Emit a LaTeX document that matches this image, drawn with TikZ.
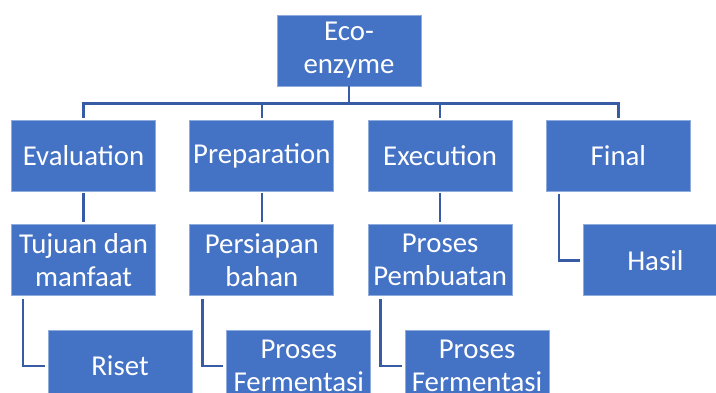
\documentclass[tikz,border=0pt]{standalone}
\usepackage{fontspec}
\setmainfont{Carlito}
\usetikzlibrary{positioning}
\definecolor{boxblue}{RGB}{68,114,196}
\definecolor{boxedge}{RGB}{143,170,220}
\definecolor{linkblue}{RGB}{55,92,165}

\begin{document}
\begin{tikzpicture}[x=1pt, y=1pt, node distance=33.5pt,
	main/.style = {draw=boxedge, line width=0.8pt, fill=boxblue, text=white,
		minimum width=144pt, minimum height=71pt, inner sep=1pt, align=center,
		font=\fontsize{28.8}{33}\selectfont},
	edge/.style = {draw=linkblue, line width=2.6pt}]

	\useasboundingbox (0,0) rectangle (716,392);
	\clip (0,0) rectangle (716,392);

	\node[main] (eco) at (349,341.5) {Eco-\\enzyme};

	\node[main] (eval) at (83.5,236.5) {Evaluation};
	\node[main] (prep) [right=of eval] {Preparation};
	\node[main] (exec) [right=of prep] {Execution};
	\node[main] (final) [right=of exec] {Final};

	\node[main] (tujuan) [below=33pt of eval] {Tujuan dan\\manfaat};
	\node[main] (persiapan) [below=33pt of prep] {Persiapan\\bahan};
	\node[main] (pembuatan) [below=33pt of exec] {Proses\\Pembuatan};
	\node[main] (hasil) [below=33pt of final, xshift=37pt] {Hasil};

	\node[main] (riset) [below=34pt of tujuan, xshift=36.5pt] {Riset};
	\node[main] (fermA) [below=34pt of persiapan, xshift=37pt] {Proses\\Fermentasi};
	\node[main] (fermB) [below=34pt of pembuatan, xshift=37pt] {Proses\\Fermentasi};

	\draw[edge] (eco.south) -- ++(0,-17) coordinate (hub);
	\foreach \n in {eval,prep,exec,final}
		\draw[edge, shorten >=2pt] (hub) -| (\n.north);

	\draw[edge, shorten <=2pt, shorten >=2pt] (eval) -- (tujuan);
	\draw[edge, shorten <=2pt, shorten >=2pt] (prep) -- (persiapan);
	\draw[edge, shorten <=2pt, shorten >=2pt] (exec) -- (pembuatan);

	\draw[edge, shorten <=3pt, shorten >=3pt] ([xshift=13pt]final.south west) |- (hasil.west);
	\draw[edge, shorten <=3pt, shorten >=3pt] ([xshift=12pt]tujuan.south west) |- (riset.west);
	\draw[edge, shorten <=3pt, shorten >=3pt] ([xshift=13pt]persiapan.south west) |- (fermA.west);
	\draw[edge, shorten <=3pt, shorten >=3pt] ([xshift=13pt]pembuatan.south west) |- (fermB.west);

\end{tikzpicture}
\end{document}
